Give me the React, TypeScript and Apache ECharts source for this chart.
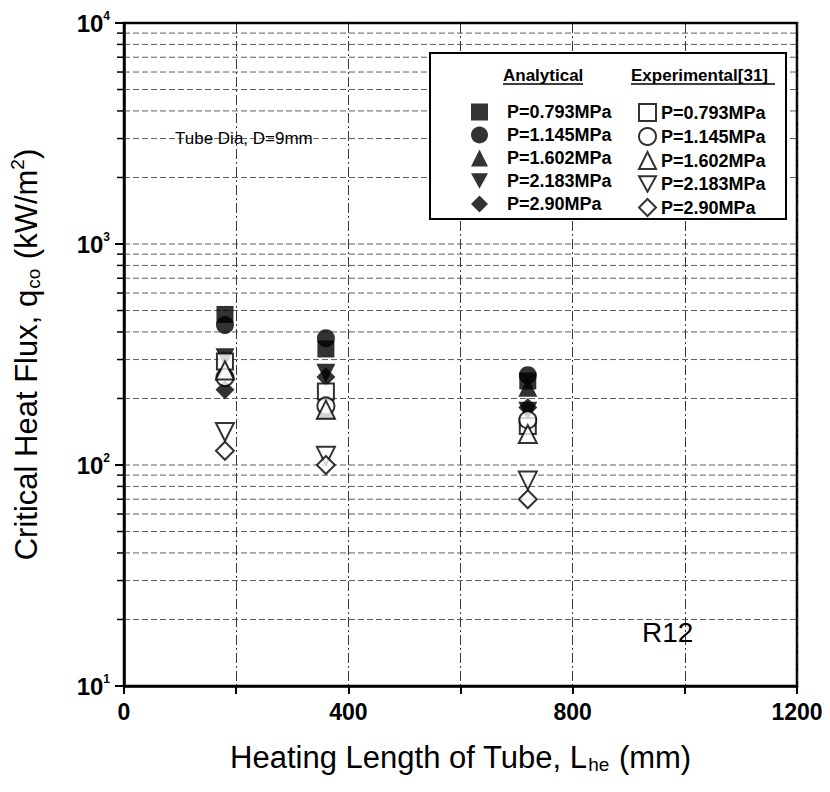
import React, { useEffect, useRef } from "react";
import * as echarts from "echarts";

// Heating lengths (mm) at which CHF was evaluated / measured
const heatingLengths = [180, 360, 720];

const pressureLabels = ["P=0.793MPa", "P=1.145MPa", "P=1.602MPa", "P=2.183MPa", "P=2.90MPa"];

// Analytical critical heat flux (kW/m2), one value per heating length
const analytical0793 = [480, 335, 240];
const analytical1145 = [430, 375, 255];
const analytical1602 = [273, 178, 225];
const analytical2183 = [306, 260, 175];
const analytical290 = [219, 250, 182];

// Experimental critical heat flux (kW/m2)
const experimental0793 = [294, 215, 150];
const experimental1145 = [249, 185, 160];
const experimental1602 = [268, 178, 138];
const experimental2183 = [141, 110, 85];
const experimental290 = [116, 100, 70];

// Log-axis grid values (every 1..9 x 10^n between the decades)
const yGridValues = [
  20, 30, 40, 50, 60, 70, 80, 90, 100,
  200, 300, 400, 500, 600, 700, 800, 900, 1000,
  2000, 3000, 4000, 5000, 6000, 7000, 8000, 9000,
];

const xTickLabels = ["0", "400", "800", "1200"];

const FONT = "'Liberation Sans', Arial, Helvetica, sans-serif";
const DOWN_TRIANGLE = "path://M0,0L20,0L10,18Z";

const symbols = ["rect", "circle", "triangle", DOWN_TRIANGLE, "diamond"];
const symbolSizes = [17, 18, 19, 19, 19];

const analyticalSets = [analytical0793, analytical1145, analytical1602, analytical2183, analytical290];
const experimentalSets = [experimental0793, experimental1145, experimental1602, experimental2183, experimental290];

const toPoints = (vals: number[]) => vals.map((v, i) => [heatingLengths[i], v]);

export default function App() {
  const ref = useRef<HTMLDivElement>(null);

  useEffect(() => {
    if (!ref.current) return;
    const chart = echarts.init(ref.current, undefined, { renderer: "svg" });

    const analyticalSeries = analyticalSets.map((vals, i) => ({
      name: "A:" + pressureLabels[i],
      type: "scatter",
      symbol: symbols[i],
      symbolSize: symbolSizes[i],
      itemStyle: { color: "#000", borderColor: "#000", borderWidth: 0 },
      data: toPoints(vals),
      z: 3,
    }));

    const experimentalSeries = experimentalSets.map((vals, i) => ({
      name: "E:" + pressureLabels[i],
      type: "scatter",
      symbol: symbols[i],
      symbolSize: symbolSizes[i] - 1,
      itemStyle: { color: "#fff", borderColor: "#000", borderWidth: 2 },
      data: toPoints(vals),
      z: 4,
    }));

    // Dashed horizontal grid at every log step plus the outward minor ticks
    const gridSeries = {
      type: "custom",
      silent: true,
      z: 1,
      clip: false,
      data: yGridValues.map((v) => [0, v]),
      renderItem: (_p: any, api: any) => {
        const v = api.value(1);
        const a = api.coord([0, v]);
        const b = api.coord([1200, v]);
        return {
          type: "group",
          children: [
            {
              type: "line",
              shape: { x1: a[0], y1: a[1], x2: b[0], y2: b[1] },
              style: { stroke: "#333", lineWidth: 0.8, lineDash: [6, 3] },
            },
            {
              type: "line",
              shape: { x1: a[0] - 7, y1: a[1], x2: a[0], y2: a[1] },
              style: { stroke: "#000", lineWidth: 1.5 },
            },
          ],
        };
      },
    };

    const legendText = (name: string) => name.slice(2);

    chart.setOption({
      animation: false,
      backgroundColor: "#fff",
      grid: {
        left: 113,
        right: 33,
        top: 23,
        bottom: 106,
        show: true,
        borderColor: "#000",
        borderWidth: 2.5,
        backgroundColor: "transparent",
      },
      xAxis: {
        type: "value",
        min: 0,
        max: 1200,
        interval: 200,
        axisLine: { show: true, lineStyle: { color: "#000", width: 2.5 } },
        axisTick: { show: true, inside: false, length: 8, lineStyle: { color: "#000", width: 2 } },
        axisLabel: {
          margin: 14,
          fontSize: 23,
          fontWeight: "bold",
          fontFamily: FONT,
          color: "#000",
          formatter: (v: number) => {
            const s = String(v);
            return xTickLabels.includes(s) ? s : "";
          },
        },
        splitLine: {
          show: true,
          lineStyle: { color: "#222", width: 0.9, type: [10, 3, 2, 3] },
        },
        name: "Heating Length of Tube, L{sub|he} (mm)",
        nameLocation: "middle",
        nameGap: 54,
        nameTextStyle: {
          fontSize: 31,
          fontFamily: FONT,
          color: "#000",
          rich: {
            sub: { fontSize: 19, fontFamily: FONT, color: "#000", padding: [15, 1, 0, 1] },
          },
        },
      },
      yAxis: {
        type: "log",
        logBase: 10,
        min: 10,
        max: 10000,
        axisLine: { show: true, lineStyle: { color: "#000", width: 2.5 } },
        axisTick: { show: true, inside: false, length: 9, lineStyle: { color: "#000", width: 2 } },
        splitLine: { show: false },
        axisLabel: {
          margin: 14,
          color: "#000",
          formatter: (v: number) => `{b|10}{s|${Math.round(Math.log10(v))}}`,
          rich: {
            b: { fontSize: 24, fontWeight: "bold", fontFamily: FONT, color: "#000" },
            s: { fontSize: 12, fontWeight: "bold", fontFamily: FONT, color: "#000", padding: [0, 0, 15, 0] },
          },
        },
        name: "Critical Heat Flux, q{sub|co} (kW/m{sup|2})",
        nameLocation: "middle",
        nameGap: 80,
        nameTextStyle: {
          fontSize: 31,
          fontFamily: FONT,
          color: "#000",
          rich: {
            sub: { fontSize: 19, fontFamily: FONT, color: "#000", padding: [15, 1, 0, 1] },
            sup: { fontSize: 19, fontFamily: FONT, color: "#000", padding: [0, 0, 17, 0] },
          },
        },
      },
      legend: [
        {
          data: analyticalSets.map((_, i) => "A:" + pressureLabels[i]),
          orient: "vertical",
          left: 466,
          top: 98,
          itemWidth: 17,
          itemHeight: 17,
          itemGap: 5,
          selectedMode: false,
          formatter: legendText,
          textStyle: {
            fontSize: 18,
            lineHeight: 17,
            fontWeight: "bold",
            fontFamily: FONT,
            color: "#000",
            padding: [0, 0, 0, 14],
          },
        },
        {
          data: experimentalSets.map((_, i) => "E:" + pressureLabels[i]),
          orient: "vertical",
          left: 633,
          top: 98,
          itemWidth: 17,
          itemHeight: 17,
          itemGap: 5,
          selectedMode: false,
          formatter: legendText,
          textStyle: {
            fontSize: 18,
            lineHeight: 17,
            fontWeight: "bold",
            fontFamily: FONT,
            color: "#000",
            padding: [0, 0, 0, 0],
          },
        },
      ],
      graphic: [
        {
          type: "rect",
          shape: { x: 430, y: 53, width: 356, height: 166 },
          style: { fill: "#fff", stroke: "#000", lineWidth: 2 },
          z: 2,
        },
        {
          type: "text",
          x: 503,
          y: 75,
          style: { text: "Analytical", font: `bold 17px ${FONT}`, fill: "#000", verticalAlign: "middle" },
          z: 3,
        },
        {
          type: "line",
          shape: { x1: 503, y1: 84, x2: 583, y2: 84 },
          style: { stroke: "#000", lineWidth: 1.5 },
          z: 3,
        },
        {
          type: "text",
          x: 631,
          y: 75,
          style: { text: "Experimental[31]", font: `bold 17px ${FONT}`, fill: "#000", verticalAlign: "middle" },
          z: 3,
        },
        {
          type: "line",
          shape: { x1: 631, y1: 84, x2: 775, y2: 84 },
          style: { stroke: "#000", lineWidth: 1.5 },
          z: 3,
        },
        {
          type: "text",
          x: 175,
          y: 138,
          style: { text: "Tube Dia, D=9mm", font: `17px ${FONT}`, fill: "#000", verticalAlign: "middle" },
          z: 3,
        },
        {
          type: "text",
          x: 642,
          y: 632,
          style: { text: "R12", font: `28px ${FONT}`, fill: "#000", verticalAlign: "middle" },
          z: 3,
        },
      ],
      series: [gridSeries, ...analyticalSeries, ...experimentalSeries],
    });

    return () => chart.dispose();
  }, []);

  return (
    <div
      ref={ref}
      style={{ position: "fixed", left: 0, top: 0, width: 830, height: 792, background: "#fff" }}
    />
  );
}
